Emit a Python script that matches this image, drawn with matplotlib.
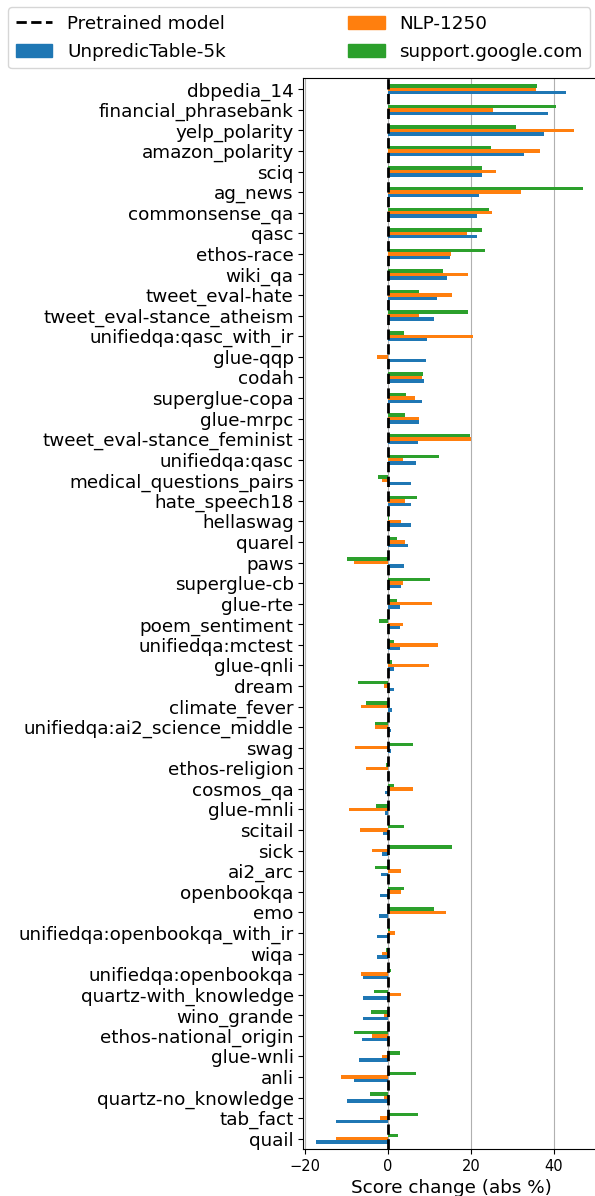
# Score change per task relative to the pretrained model, for three training datasets
import numpy as np
import matplotlib
matplotlib.use('Agg')
import matplotlib.pyplot as plt
from matplotlib.patches import Patch
from matplotlib.lines import Line2D

tasks = ['dbpedia_14', 'financial_phrasebank', 'yelp_polarity', 'amazon_polarity', 'sciq',
         'ag_news', 'commonsense_qa', 'qasc', 'ethos-race', 'wiki_qa', 'tweet_eval-hate',
         'tweet_eval-stance_atheism', 'unifiedqa:qasc_with_ir', 'glue-qqp', 'codah',
         'superglue-copa', 'glue-mrpc', 'tweet_eval-stance_feminist', 'unifiedqa:qasc',
         'medical_questions_pairs', 'hate_speech18', 'hellaswag', 'quarel', 'paws',
         'superglue-cb', 'glue-rte', 'poem_sentiment', 'unifiedqa:mctest', 'glue-qnli',
         'dream', 'climate_fever', 'unifiedqa:ai2_science_middle', 'swag', 'ethos-religion',
         'cosmos_qa', 'glue-mnli', 'scitail', 'sick', 'ai2_arc', 'openbookqa', 'emo',
         'unifiedqa:openbookqa_with_ir', 'wiqa', 'unifiedqa:openbookqa',
         'quartz-with_knowledge', 'wino_grande', 'ethos-national_origin', 'glue-wnli',
         'anli', 'quartz-no_knowledge', 'tab_fact', 'quail']

unpredictable_5k = [43.0, 38.6, 37.7, 32.8, 22.7, 22.0, 21.5, 21.5, 15.0, 14.3,
                    11.8, 11.1, 9.4, 9.2, 8.7, 8.2, 7.5, 7.2, 6.8, 5.6,
                    5.6, 5.6, 4.8, 3.9, 3.1, 2.9, 2.9, 2.9, 1.4, 1.4,
                    1.0, 0.7, 0.7, 0.1, -0.6, -0.6, -1.1, -1.4, -1.6, -1.9,
                    -2.1, -2.6, -2.6, -6.0, -6.0, -6.0, -6.2, -6.9, -8.1, -9.8,
                    -12.5, -17.3]

nlp_1250 = [35.7, 25.4, 44.9, 36.7, 26.1, 32.1, 25.1, 19.2, 15.2, 19.3,
            15.5, 7.5, 20.5, -2.6, 8.2, 6.5, 7.5, 20.0, 3.6, -1.4,
            4.1, 3.1, 4.1, -8.1, 3.6, 10.6, 3.6, 12.1, 9.9, -0.9,
            -6.4, -3.1, -7.9, -5.2, 6.0, -9.3, -6.7, -3.8, 3.1, 3.1,
            14.0, 1.7, -1.4, -6.4, 3.1, -0.9, -3.8, -1.4, -11.3, -0.9,
            -1.9, -12.5]

support_google = [36.0, 40.6, 30.8, 24.9, 22.7, 47.1, 24.4, 22.7, 23.4, 13.3,
                  7.5, 19.3, 3.9, 0.0, 8.5, 4.3, 4.1, 19.8, 12.3, -2.3,
                  7.0, 0.3, 2.2, -9.8, 10.1, 2.2, -2.1, 1.4, 1.0, -7.2,
                  -5.2, -3.1, 6.0, -0.4, 1.4, -2.8, 3.9, 15.5, -3.1, 3.9,
                  11.1, 0.5, -0.4, 0.7, -3.3, -4.0, -8.1, 2.9, 6.8, -4.3,
                  7.2, 2.4]

series_names = ['UnpredicTable-5k', 'NLP-1250', 'support.google.com']
colors = ['#1f77b4', '#ff7f0e', '#2ca02c']

fig = plt.figure(figsize=(5.95, 11.96), dpi=100)
ax = fig.add_axes([0.510, 0.0393, 0.4985, 0.8955])

y = np.arange(len(tasks))
h = 0.5 / 3
# blue lowest, orange in the middle, green on top (y axis is inverted)
ax.barh(y + h, unpredictable_5k, height=h, color=colors[0], zorder=2)
ax.barh(y, nlp_1250, height=h, color=colors[1], zorder=2)
ax.barh(y - h, support_google, height=h, color=colors[2], zorder=2)
ax.axvline(0, color='black', linestyle='--', linewidth=2, zorder=3)

ax.set_yticks(y)
ax.set_yticklabels(tasks, fontsize=13.2)
ax.set_ylim(len(tasks) - 0.5, -0.55)
ax.set_xlim(-20.4, 51.2)
ax.set_xticks([-20, 0, 20, 40])
ax.tick_params(axis='x', labelsize=10.5)
ax.set_xlabel('Score change (abs %)', fontsize=13.2)
ax.grid(axis='x', color='#b0b0b0', linewidth=0.8, zorder=0)
ax.set_axisbelow(True)
ax.spines['right'].set_visible(False)

handles = [Line2D([0], [0], color='black', linestyle='--', linewidth=2),
           Patch(color=colors[0]), Patch(color=colors[1]), Patch(color=colors[2])]
labels = ['Pretrained model'] + series_names
fig.legend(handles, labels, ncol=2, fontsize=13.2, loc='lower left', labelspacing=0.55,
           bbox_to_anchor=(0.014, 0.943, 0.978, 0.05), mode='expand', borderaxespad=0)

fig.savefig('out.png', dpi=100)
